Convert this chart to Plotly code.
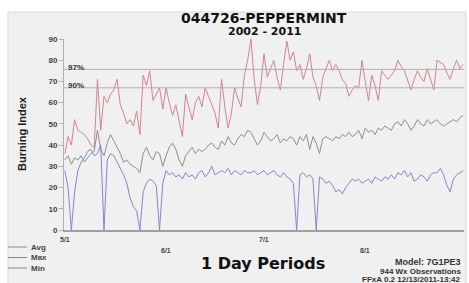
import pandas as pd
import plotly.graph_objects as go

dates = pd.date_range("2011-05-01", "2011-08-31", freq="D")

max_bi = [36,44,40,52,47,46,45,43,40,39,71,47,63,60,64,66,71,59,55,50,
          52,49,56,45,73,68,75,61,64,67,57,67,60,54,59,52,44,64,58,52,
          60,63,58,67,63,59,55,48,71,58,48,55,67,62,58,73,80,90,71,59,
          68,83,72,76,80,72,66,78,89,80,84,75,78,71,76,83,72,68,61,72,
          76,80,75,78,75,71,69,63,66,68,67,80,70,61,73,68,61,75,73,71,
          73,75,80,77,75,70,66,71,75,72,70,76,71,66,80,79,78,74,71,76,
          80,76,78]
avg_bi = [33,35,31,34,33,35,32,34,36,37,47,38,35,41,45,42,39,36,32,33,
          31,30,29,27,36,39,35,33,37,36,30,35,39,41,38,33,30,35,37,39,
          36,38,37,38,40,41,39,38,42,40,44,41,40,43,45,44,47,46,43,40,
          42,46,44,42,43,45,41,43,42,44,43,40,44,42,45,38,44,41,36,43,
          44,43,42,44,43,45,44,46,44,45,47,43,48,46,47,45,48,47,49,48,
          47,50,51,49,52,50,47,49,52,50,49,52,50,51,52,50,49,50,51,52,
          51,53,54]
min_bi = [28,20,0,18,28,32,34,37,38,35,36,40,0,33,36,35,32,29,26,22,
          15,11,9,0,18,22,24,23,21,0,22,28,26,27,25,26,24,27,25,26,
          24,27,28,25,27,30,26,27,28,27,29,26,28,27,26,28,27,27,28,26,
          27,28,26,27,28,26,25,27,25,24,22,0,26,27,25,26,24,0,25,24,
          22,23,21,18,19,17,20,22,24,23,24,22,23,24,22,25,24,23,25,24,
          26,24,27,26,28,25,27,23,24,26,25,23,26,27,27,29,26,21,18,24,
          26,27,28]

pct_labels = ["97%", "90%"]
pct_values = [75.7, 67.0]

x_tick_dates = ["2011-05-01", "2011-06-01", "2011-07-01", "2011-08-01"]
x_tick_text = ["5/1", "6/1", "7/1", "8/1"]

legend_labels = ["Avg", "Max", "Min"]

W, H = 469, 283
L, R, T, B = 64, 5, 39, 53

def px_x(x):
    return (x - L) / (W - L - R)

def px_y(y):
    return (H - B - y) / (H - T - B)

fig = go.Figure()
fig.add_trace(go.Scatter(x=dates, y=max_bi, mode="lines",
                         line=dict(color="#d48391", width=1), name="Max"))
fig.add_trace(go.Scatter(x=dates, y=avg_bi, mode="lines",
                         line=dict(color="#8e8e8e", width=1), name="Avg"))
fig.add_trace(go.Scatter(x=dates, y=min_bi, mode="lines",
                         line=dict(color="#8585cc", width=1), name="Min"))

shapes = [
    dict(type="rect", xref="paper", yref="paper", layer="below",
         x0=px_x(8), x1=px_x(466), y0=px_y(288), y1=px_y(12),
         fillcolor="#f0f0f0", line=dict(color="#d8d8d8", width=1)),
]
for v in pct_values:
    shapes.append(dict(type="line", xref="paper", yref="y", x0=0, x1=1,
                       y0=v, y1=v, line=dict(color="#b9a9ad", width=1)))

annotations = []
for lab, v in zip(pct_labels, pct_values):
    annotations.append(dict(x=0.005, y=v, xref="paper", yref="y", text=lab,
                            showarrow=False, xanchor="left", yanchor="middle",
                            yshift=2,
                            font=dict(size=8, color="#333333", family="Liberation Sans", weight="bold")))
for i, (d, t) in enumerate(zip(x_tick_dates, x_tick_text)):
    annotations.append(dict(x=d, y=0, xref="x", yref="paper", text=t,
                            showarrow=False, xanchor="center", yanchor="top",
                            yshift=-4 if i % 2 == 0 else -15,
                            font=dict(size=7, color="#444444", family="Liberation Sans", weight="bold")))

for i, lab in enumerate(legend_labels):
    ypix = 247 + i * 10.5
    yp = px_y(ypix)
    shapes.append(dict(type="line", xref="paper", yref="paper",
                       x0=px_x(8), x1=px_x(27),
                       y0=yp, y1=yp, line=dict(color="#8a8a8a", width=1)))
    annotations.append(dict(x=px_x(29), y=yp, xref="paper", yref="paper",
                            text=lab, showarrow=False, xanchor="left", yanchor="middle",
                            font=dict(size=8, color="#444444", family="Liberation Sans", weight="bold")))

annotations += [
    dict(x=px_x(264), y=px_y(18), xref="paper", yref="paper", text="044726-PEPPERMINT",
         showarrow=False, xanchor="center", yanchor="middle",
         font=dict(size=14, color="#111111", family="DejaVu Sans", weight="bold")),
    dict(x=px_x(264), y=px_y(32), xref="paper", yref="paper", text="2002 - 2011",
         showarrow=False, xanchor="center", yanchor="middle",
         font=dict(size=11, color="#111111", family="DejaVu Sans", weight="bold")),
    dict(x=px_x(22), y=px_y(134), xref="paper", yref="paper", text="Burning Index",
         showarrow=False, textangle=-90, xanchor="center", yanchor="middle",
         font=dict(size=11, color="#222222", family="Liberation Sans", weight="bold")),
    dict(x=px_x(263), y=px_y(263), xref="paper", yref="paper", text="1 Day Periods",
         showarrow=False, xanchor="center", yanchor="middle",
         font=dict(size=16, color="#111111", family="DejaVu Sans", weight="bold")),
    dict(x=px_x(463), y=px_y(262), xref="paper", yref="paper", text="Model: 7G1PE3",
         showarrow=False, xanchor="right", yanchor="middle",
         font=dict(size=9, color="#333333", family="Liberation Sans", weight="bold")),
    dict(x=px_x(463), y=px_y(271), xref="paper", yref="paper", text="944 Wx Observations",
         showarrow=False, xanchor="right", yanchor="middle",
         font=dict(size=8, color="#333333", family="Liberation Sans", weight="bold")),
    dict(x=px_x(463), y=px_y(279.5), xref="paper", yref="paper", text="FFxA 0.2 12/13/2011-13:42",
         showarrow=False, xanchor="right", yanchor="middle",
         font=dict(size=8, color="#333333", family="Liberation Sans", weight="bold")),
]

fig.update_layout(
    width=W, height=H,
    margin=dict(l=L, r=R, t=T, b=B, pad=0),
    paper_bgcolor="#ffffff",
    plot_bgcolor="#f7f7f9",
    showlegend=False,
    shapes=shapes,
    annotations=annotations,
    xaxis=dict(range=["2011-04-30 18:00", "2011-08-31 06:00"], showticklabels=False,
               showgrid=False, zeroline=False, showline=True, linecolor="#a0a0a0",
               linewidth=2, ticks=""),
    yaxis=dict(range=[0, 90], tickvals=list(range(0, 91, 10)), showgrid=False,
               zeroline=False, showline=True, linecolor="#b0b0b0", linewidth=1,
               ticks="outside", ticklen=4, tickcolor="#b0b0b0",
               tickfont=dict(size=8, color="#444444", family="Liberation Sans", weight="bold")),
)

fig.write_html("out.html", config={"displayModeBar": False})

with open("out.html", "r", encoding="utf-8") as f:
    html = f.read()
html = html.replace("<head>", '<head><style>html,body{margin:0;padding:0;overflow:hidden;}</style>', 1)
with open("out.html", "w", encoding="utf-8") as f:
    f.write(html)
